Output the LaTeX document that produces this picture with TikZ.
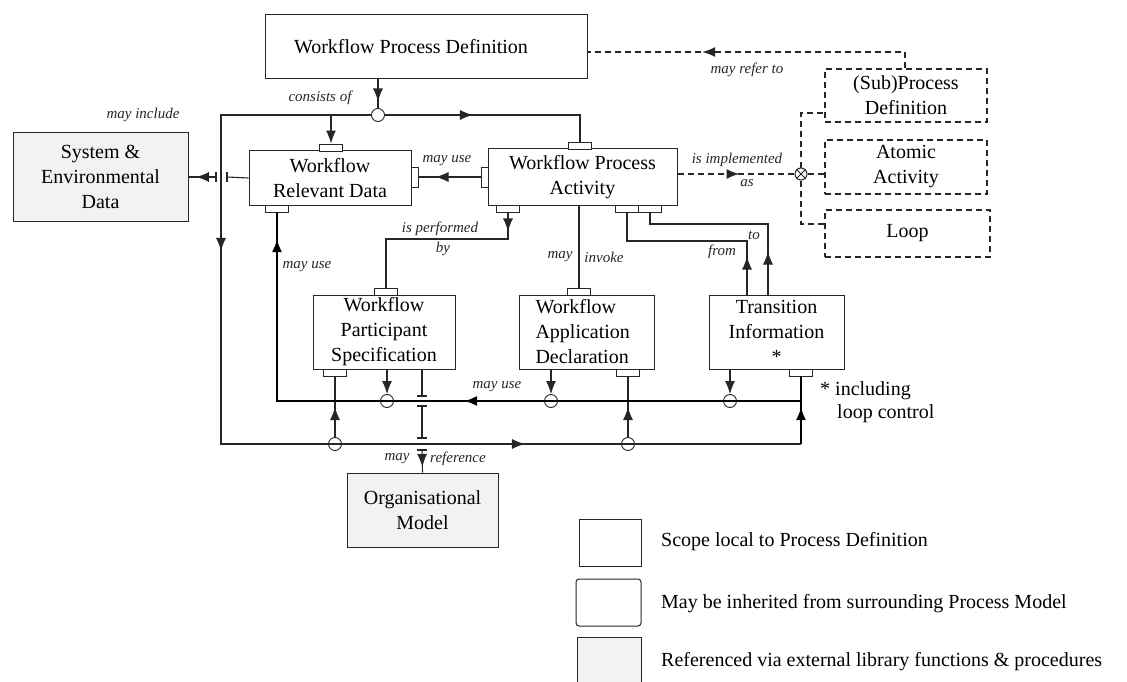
\documentclass[tikz,border=0pt]{standalone}
\usepackage{fontspec}
\setmainfont{Liberation Serif}
\usetikzlibrary{arrows.meta,decorations.markings}
\definecolor{ln}{HTML}{262626}
\definecolor{shade}{HTML}{F2F2F2}
\tikzset{
  box/.style={draw=ln, line width=1pt, fill=white, inner sep=0pt, align=center,
    font=\fontsize{20}{25}\selectfont},
  dbox/.style={box, dash pattern=on 6pt off 4pt, line width=1.7pt},
  gbox/.style={box, fill=shade},
  port/.style={draw=ln, line width=0.9pt, fill=white, inner sep=0pt, minimum width=23pt, minimum height=7pt},
  vport/.style={draw=ln, line width=0.9pt, fill=white, inner sep=0pt, minimum width=7pt, minimum height=20pt},
  conn/.style={draw=ln, line width=1.1pt},
  thick conn/.style={draw=black, line width=2.2pt},
  dconn/.style={draw=ln, line width=1.7pt, dash pattern=on 6pt off 4pt},
  junc/.style={circle, draw=ln, line width=0.9pt, inner sep=0pt, minimum size=13pt},
  lbl/.style={font=\fontsize{15}{17}\selectfont\itshape, text=ln, inner sep=1pt},
  legtext/.style={font=\fontsize{20}{24}\selectfont, anchor=west, inner sep=0pt},
  arr/.style={postaction={decorate,decoration={markings,
      mark=at position #1 with {\arrow{Latex[length=13pt,width=10pt]}}}}},
  tip/.style={-{Latex[length=13pt,width=10pt]}},
}
\begin{document}
\begin{tikzpicture}[x=1pt,y=-1pt]
\useasboundingbox (0,0) rectangle (1127,682);

% ---------- boxes ----------
\node[box, minimum width=322pt, minimum height=64pt] (wpd) at (426,47) {\hspace*{-30pt}Workflow Process Definition};
\node[box, minimum width=162pt, minimum height=54pt] (wrd) at (330,178) {Workflow\\Relevant Data};
\node[box, minimum width=189pt, minimum height=56pt] (wpa) at (582.5,177) {Workflow Process\\Activity};
\node[gbox, minimum width=175pt, minimum height=88pt] (sys) at (100.5,177) {System \&\\Environmental\\Data};
\node[dbox, minimum width=162pt, minimum height=53pt] (sub) at (906,95.5) {(Sub)Process\\Definition};
\node[dbox, minimum width=162pt, minimum height=54pt] (atom) at (906,167) {Atomic\\Activity};
\node[dbox, minimum width=165pt, minimum height=47pt] (loop) at (907.5,233.5) {Loop};
\node[box, minimum width=142pt, minimum height=74pt] (part) at (384,332) {Workflow\\Participant\\Specification};
\node[box, minimum width=135pt, minimum height=74pt, text width=102pt, align=left] (app) at (586.5,332) {Workflow\\Application\\Declaration};
\node[box, minimum width=135pt, minimum height=74pt] (trans) at (776.5,332) {Transition\\Information\\*};
\node[gbox, minimum width=151pt, minimum height=74pt] (org) at (422.5,510) {Organisational\\Model};

% ---------- ports ----------
\node[port] (pwrdt) at (331,147.5) {};
\node[port] (pwpat) at (580,145.5) {};
\node[vport] (pwpal) at (484.5,177) {};
\node[vport] (pwrdr) at (414.5,177) {};
\node[port] (pwrdb) at (277,208.5) {};
\node[port] (pwpab1) at (508,208.5) {};
\node[port] (pwpab2) at (627,208.5) {};
\node[port] (pwpab3) at (650,208.5) {};
\node[port] (ppartt) at (386,291.5) {};
\node[port] (pappt) at (579,291.5) {};
\node[port] (ppartb) at (335,372.5) {};
\node[port] (pappb) at (628,372.5) {};
\node[port] (ptransb) at (801,372.5) {};

% ---------- junction circles ----------
\node[junc] (j1) at (378,115) {};
\node[junc] (j3) at (387,401) {};
\node[junc] (j4) at (551,401) {};
\node[junc] (j5) at (730,401) {};
\node[junc] (j6) at (335,444) {};
\node[junc] (j7) at (628,444) {};
\node[circle, draw=ln, line width=1pt, fill=white, inner sep=0pt, minimum size=12pt] (ox) at (801,174) {};
\draw[ln, line width=0.9pt] (ox.north east) -- (ox.south west) (ox.north west) -- (ox.south east);

% ---------- coordinates ----------
\coordinate (lt) at (221,115);
\coordinate (lb) at (221,444);
\coordinate (rb) at (801,444);
\coordinate (tr) at (580,115);
\coordinate (wrdt) at (331,115);
\coordinate (jt) at (801,401);
\coordinate (tl) at (277,401);
\coordinate (hopR) at (227,177);
\coordinate (hopL) at (216,177);
\coordinate (perf1) at (508,239);
\coordinate (perf2) at (386,239);
\coordinate (fr1) at (747,241);
\coordinate (fr2) at (627,241);
\coordinate (to1) at (768,224);
\coordinate (to2) at (650,224);
\coordinate (ra) at (422,396);
\coordinate (rb1) at (422,406);
\coordinate (rc) at (422,438);
\coordinate (rd) at (422,450);
\coordinate (dref) at (905,52);
\coordinate (dtop) at (801,113);
\coordinate (dbot) at (801,224);

% ---------- connectors ----------
% consists of
\draw[conn, arr=22pt] (wpd.south -| j1) -- (j1.north);
\draw[conn, arr=88pt] (j1.east) -- (tr) -- (pwpat.north);
\draw[conn, arr=286pt, arr=783pt] (j1.west) -- (lt) -- (lb) -- (rb);
\draw[conn, tip] (wrdt) -- (pwrdt.north);
\draw[thick conn, arr=37pt] (rb) -- (ptransb.south);
% branches from lower loop line
\draw[conn, arr=30pt] (j6.north) -- (ppartb.south);
\draw[conn, arr=30pt] (j7.north) -- (pappb.south);
% thick "may use" line
\draw[thick conn, arr=337pt, arr=686pt] (jt) -- (tl) -- (pwrdb.south);
\draw[conn, tip] (part.south -| j3) -- (j3.north);
\draw[conn, tip] (app.south -| j4) -- (j4.north);
\draw[conn, tip] (trans.south -| j5) -- (j5.north);
% activity -> relevant data
\draw[conn, arr=45pt] (pwpal.west) -- (pwrdr.east);
% relevant data -> system data (hop over loop line)
\draw[conn] (wrd.west) -- (hopR);
\draw[conn] ([yshift=5pt]hopR) -- ([yshift=-5pt]hopR);
\draw[conn] ([yshift=5pt]hopL) -- ([yshift=-5pt]hopL);
\draw[conn, arr=20pt] (hopL) -- (sys.east);
% is performed by
\draw[conn, arr=19pt] (pwpab1.south) -- (perf1) -- (perf2) -- (ppartt.north);
% may invoke
\draw[conn] (wpa.south -| pappt) -- (pappt.north);
% from / to
\draw[conn, arr=38pt] (trans.north -| fr1) -- (fr1) -- (fr2) -- (pwpab2.south);
\draw[conn, arr=43pt] (trans.north -| to1) -- (to1) -- (to2) -- (pwpab3.south);
% may reference (hops over two lines)
\draw[conn] (part.south -| ra) -- (ra);
\draw[conn] ([xshift=-5pt]ra) -- ([xshift=5pt]ra);
\draw[conn] ([xshift=-5pt]rb1) -- ([xshift=5pt]rb1);
\draw[conn] (rb1) -- (rc);
\draw[conn] ([xshift=-5pt]rc) -- ([xshift=5pt]rc);
\draw[conn] ([xshift=-5pt]rd) -- ([xshift=5pt]rd);
\draw[conn, arr=17pt] (rd) -- (org.north);
% dashed connectors
\draw[dconn, arr=219pt] (sub.north -| dref) -- (dref) -- (dref -| wpd.east);
\draw[dconn, arr=62pt] (wpa.east |- ox) -- (ox.west);
\draw[dconn] (ox.north) -- (dtop) -- (dtop -| sub.west);
\draw[dconn] (ox.south) -- (dbot) -- (dbot -| loop.west);
\draw[dconn] (ox.east) -- (ox.east -| atom.west);

% ---------- labels ----------
\node[lbl] (l1) at (320,98) {consists of};
\node[lbl] (l2) at (143,115) {may include};
\node[lbl] (l3) at (447,161) {may use};
\node[lbl] (l4) at (747,70) {may refer to};
\node[lbl] (l5) at (737,160) {is implemented};
\node[lbl] (l6) at (747,183) {as};
\node[lbl] (l7) at (440,229) {is performed};
\node[lbl] (l8) at (443,249) {by};
\node[lbl] (l9) at (307,267) {may use};
\node[lbl] (l10) at (560,257) {may};
\node[lbl] (l11) at (604,257) {invoke};
\node[lbl] (l12) at (722,252) {from};
\node[lbl] (l13) at (754,235) {to};
\node[lbl] (l14) at (497,387) {may use};
\node[lbl] (l15) at (397,459) {may};
\node[lbl] (l16) at (458,459) {reference};

% ---------- footnote ----------
\node[legtext] (n1) at (820,391) {* including};
\node[legtext] (n2) at (837,414) {loop control};

% ---------- legend ----------
\node[box, minimum width=62pt, minimum height=47pt] (g1) at (610,542.5) {};
\node[box, minimum width=65pt, minimum height=47pt, rounded corners=3pt] (g2) at (608.5,602.5) {};
\node[gbox, minimum width=64pt, minimum height=56pt] (g3) at (609,665) {};
\node[legtext] (t1) at (661,542) {Scope local to Process Definition};
\node[legtext] (t2) at (661,604) {May be inherited from surrounding Process Model};
\node[legtext] (t3) at (661,662) {Referenced via external library functions \& procedures};
\end{tikzpicture}
\end{document}
